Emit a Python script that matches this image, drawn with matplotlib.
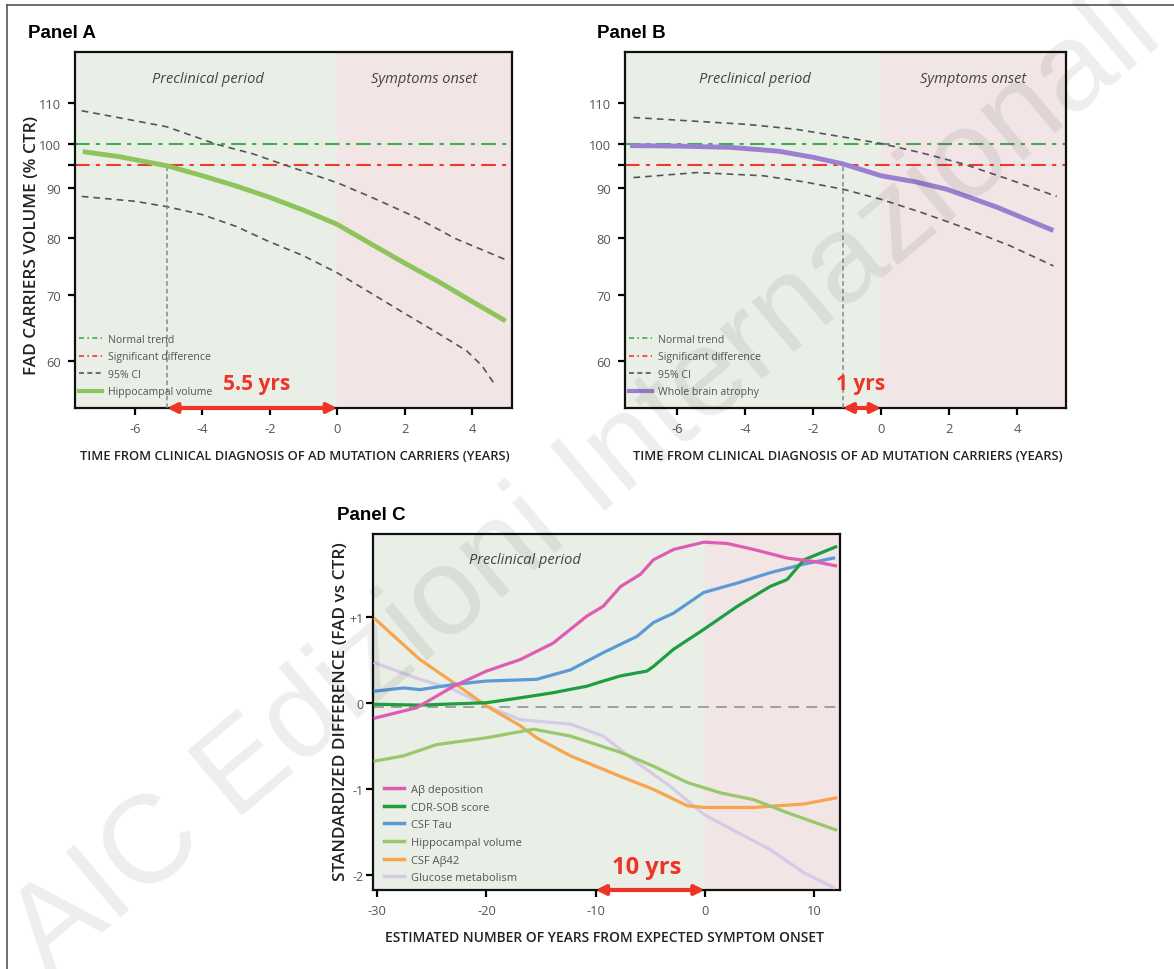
import matplotlib
matplotlib.use("Agg")
import matplotlib.pyplot as plt
from matplotlib.lines import Line2D

plt.rcParams.update({
    'font.family': ['Open Sans', 'DejaVu Sans'],
    'axes.linewidth': 1.6,
})

# ---- Panel A: hippocampal volume (% CTR) ----
a_x = [-7.55, -6.5, -5.05, -4.0, -3.0, -2.0, -1.0, 0.0, 1.0, 2.0, 3.0, 4.0, 5.0]
a_hippo = [98.1, 97.0, 94.9, 92.7, 90.5, 88.1, 85.5, 82.7, 79.0, 75.5, 72.3, 69.0, 65.9]
a_ci_x = [-7.58, -6.0, -5.05, -3.57, -2.5, -1.6, 0.0, 1.0, 2.36, 3.5, 5.08]
a_ci_up = [108.0, 105.5, 104.0, 99.8, 97.6, 95.2, 91.2, 88.2, 84.0, 80.0, 75.9]
a_ci_x2 = [-7.58, -6.0, -5.05, -4.0, -3.0, -2.09, -1.0, 0.0, 1.87, 3.0, 3.85, 4.3, 4.64]
a_ci_lo = [88.3, 87.3, 86.2, 84.6, 82.3, 79.6, 76.8, 73.8, 67.5, 64.0, 61.4, 59.3, 57.0]
a_cross = -5.05

# ---- Panel B: whole brain atrophy (% CTR) ----
b_x = [-7.37, -6.0, -4.43, -3.0, -1.99, -1.11, 0.0, 1.0, 1.93, 3.4, 5.06]
b_brain = [99.5, 99.4, 99.1, 98.2, 96.8, 95.3, 92.7, 91.4, 89.8, 86.1, 81.5]
b_ci_x = [-7.27, -5.5, -3.94, -2.5, -1.01, 0.0, 1.2, 2.42, 3.8, 5.16]
b_ci_up = [106.3, 105.4, 104.6, 103.4, 101.4, 100.0, 97.8, 95.3, 91.8, 88.3]
b_ci_x2 = [-7.27, -5.41, -3.46, -2.2, -1.11, 0.0, 1.2, 2.42, 3.8, 5.06]
b_ci_lo = [92.3, 93.4, 92.7, 91.3, 89.8, 87.7, 85.0, 82.1, 78.6, 75.0]
b_cross = -1.13

normal_trend = 100
signif_diff = 95

# ---- Panel C: standardized difference ----
c_abeta_x = [-30.2, -26.4, -23.0, -20.0, -16.9, -13.9, -10.8, -9.3, -7.7, -5.9, -4.7, -2.85, -0.09, 2.05, 4.5, 7.55, 10.0, 12.0]
c_abeta = [-0.17, -0.05, 0.20, 0.376, 0.51, 0.70, 1.015, 1.13, 1.36, 1.50, 1.67, 1.79, 1.875, 1.86, 1.79, 1.69, 1.65, 1.60]
c_cdr_x = [-30.2, -26.1, -20.0, -16.9, -13.9, -10.8, -9.3, -7.7, -5.3, -4.7, -2.85, -0.09, 3.0, 6.0, 7.55, 9.1, 12.0]
c_cdr = [-0.01, -0.02, 0.008, 0.065, 0.124, 0.20, 0.26, 0.32, 0.376, 0.43, 0.63, 0.86, 1.13, 1.36, 1.44, 1.67, 1.82]
c_tau_x = [-30.2, -27.6, -26.1, -23.0, -20.0, -15.4, -12.3, -9.3, -6.2, -4.7, -2.85, -0.09, 3.0, 6.0, 9.1, 11.8]
c_tau = [0.143, 0.18, 0.16, 0.22, 0.26, 0.28, 0.39, 0.59, 0.78, 0.94, 1.05, 1.29, 1.40, 1.52, 1.62, 1.69]
c_hippo_x = [-30.2, -27.6, -24.6, -20.0, -15.7, -12.3, -7.7, -4.7, -1.6, 1.44, 4.5, 7.55, 12.0]
c_hippo = [-0.67, -0.61, -0.48, -0.40, -0.30, -0.38, -0.57, -0.73, -0.92, -1.04, -1.12, -1.27, -1.47]
c_ab42_x = [-30.2, -26.1, -23.0, -20.0, -16.9, -15.4, -12.3, -7.7, -4.7, -1.6, -0.09, 4.5, 9.1, 12.0]
c_ab42 = [0.98, 0.51, 0.24, -0.03, -0.26, -0.40, -0.61, -0.85, -1.00, -1.19, -1.21, -1.21, -1.17, -1.10]
c_gluc_x = [-30.2, -26.1, -23.0, -20.0, -16.9, -12.3, -9.3, -6.2, -3.2, -0.09, 3.0, 6.0, 9.1, 11.8]
c_gluc = [0.47, 0.28, 0.16, -0.03, -0.19, -0.24, -0.38, -0.69, -0.96, -1.29, -1.50, -1.70, -1.97, -2.14]
c_zero = -0.04

c_series = [
    ('A\u03b2 deposition', c_abeta_x, c_abeta, '#e05cb4'),
    ('CDR-SOB score', c_cdr_x, c_cdr, '#1e9e3e'),
    ('CSF Tau', c_tau_x, c_tau, '#5b9bd5'),
    ('Hippocampal volume', c_hippo_x, c_hippo, '#98c86a'),
    ('CSF A\u03b242', c_ab42_x, c_ab42, '#f7a54e'),
    ('Glucose metabolism', c_gluc_x, c_gluc, '#d6cbe6'),
]

GREEN_BG = '#e9efe6'
PINK_BG = '#f1e5e5'
RED = '#ee3426'
TXT = '#555555'

W, H = 1174, 970
fig = plt.figure(figsize=(W / 100, H / 100), dpi=100)


def fx(px):
    return px / W


def fy(py):
    return 1 - py / H


def axes_px(l, t, r, b):
    return fig.add_axes([fx(l), fy(b), (r - l) / W, (b - t) / H])


def style_axes(ax):
    ax.tick_params(direction='out', length=5, width=1.6, color='black',
                   labelcolor=TXT, labelsize=9.3, pad=5)
    for s in ax.spines.values():
        s.set_color('#111111')


def volume_panel(ax, xlim, x, y, cx, cu, cx2, cl, cross, curve_col, curve_lab, yrs_x, yrs_txt):
    ax.set_yscale('log')
    ax.set_xlim(*xlim)
    ax.set_ylim(53.7, 124)
    ax.axvspan(xlim[0], 0, color=GREEN_BG, lw=0, zorder=0)
    ax.axvspan(0, xlim[1], color=PINK_BG, lw=0, zorder=0)
    ax.axhline(normal_trend, color='#3daf4c', lw=1.5, dashes=(7, 3, 2, 3), zorder=2)
    ax.axhline(signif_diff, color='#ee3a2c', lw=1.5, dashes=(7, 3, 2, 3), zorder=2)
    ax.plot(cx, cu, color='#555555', lw=1.2, dashes=(4, 3), zorder=3)
    ax.plot(cx2, cl, color='#555555', lw=1.2, dashes=(4, 3), zorder=3)
    ax.plot(x, y, color=curve_col, lw=3.5, solid_capstyle='butt', zorder=4)
    ax.plot([cross, cross], [53.7, signif_diff], color='#888888', lw=1.1,
            dashes=(3, 2), zorder=3)
    ax.annotate('', xy=(0, 0), xytext=(cross, 0),
                xycoords=('data', 'axes fraction'), textcoords=('data', 'axes fraction'),
                arrowprops=dict(arrowstyle='<|-|>', color=RED, lw=3, mutation_scale=14,
                                shrinkA=0, shrinkB=0),
                annotation_clip=False, zorder=6)
    ax.text(yrs_x, 0.068, yrs_txt, transform=ax.get_xaxis_transform(), ha='center',
            va='center', color=RED, fontsize=15, fontweight='bold', zorder=6)
    ax.set_yticks([60, 70, 80, 90, 95, 100, 110])
    ax.set_yticklabels(['60', '70', '80', '90', '', '100', '110'])
    ax.yaxis.set_minor_locator(matplotlib.ticker.NullLocator())
    ax.set_xticks([-6, -4, -2, 0, 2, 4])
    ax.set_xticklabels(['-6', '-4', '-2', '0', '2', '4'])
    ax.text(xlim[0] + (0 - xlim[0]) * 0.5 + 0.05, 0.925, 'Preclinical period',
            transform=ax.get_xaxis_transform(), ha='center', va='center',
            style='italic', fontsize=10.5, color='#444444')
    ax.text(xlim[1] * 0.5, 0.925, 'Symptoms onset',
            transform=ax.get_xaxis_transform(), ha='center', va='center',
            style='italic', fontsize=10.5, color='#444444')
    handles = [
        Line2D([], [], color='#3daf4c', lw=1.2, dashes=(3, 2, 1, 2)),
        Line2D([], [], color='#ee3a2c', lw=1.2, dashes=(3, 2, 1, 2)),
        Line2D([], [], color='#555555', lw=1.2, dashes=(3, 2)),
        Line2D([], [], color=curve_col, lw=3),
    ]
    labels = ['Normal trend', 'Significant difference', '95% CI', curve_lab]
    ax.legend(handles, labels, loc='lower left', bbox_to_anchor=(-0.005, 0.012),
              frameon=False, fontsize=7.6, handlelength=2.2, handletextpad=0.5,
              labelspacing=0.62, labelcolor=TXT, borderaxespad=0.2)
    style_axes(ax)


# Panel A
axA = axes_px(75, 53, 512, 409)
volume_panel(axA, (-7.78, 5.19), a_x, a_hippo, a_ci_x, a_ci_up, a_ci_x2, a_ci_lo,
             a_cross, '#8dc55c', 'Hippocampal volume', -2.38, '5.5 yrs')

# Panel B
axB = axes_px(625, 53, 1066, 409)
volume_panel(axB, (-7.52, 5.43), b_x, b_brain, b_ci_x, b_ci_up, b_ci_x2, b_ci_lo,
             b_cross, '#9b80cf', 'Whole brain atrophy', -0.6, '1 yrs')

# Panel C
axC = axes_px(373, 535, 840, 891)
cxlim = (-30.4, 12.4)
axC.set_xlim(*cxlim)
axC.set_ylim(-2.17, 1.97)
axC.axvspan(cxlim[0], 0, color=GREEN_BG, lw=0, zorder=0)
axC.axvspan(0, cxlim[1], color=PINK_BG, lw=0, zorder=0)
axC.axhline(c_zero, color='#999999', lw=1.3, dashes=(6, 4), zorder=1)
for lab, xs, ys, col in c_series[::-1]:
    axC.plot(xs, ys, color=col, lw=2.3, zorder=3)
axC.annotate('', xy=(0, 0), xytext=(-10, 0),
             xycoords=('data', 'axes fraction'), textcoords=('data', 'axes fraction'),
             arrowprops=dict(arrowstyle='<|-|>', color=RED, lw=3, mutation_scale=14,
                             shrinkA=0, shrinkB=0),
             annotation_clip=False, zorder=6)
axC.text(-5.3, 0.066, '10 yrs', transform=axC.get_xaxis_transform(), ha='center',
         va='center', color=RED, fontsize=17, fontweight='bold', zorder=6)
axC.text(-16.45, 1.67, 'Preclinical period', ha='center', va='center',
         style='italic', fontsize=10.5, color='#444444')
axC.set_xticks([-30, -20, -10, 0, 10])
axC.set_xticklabels(['-30', '-20', '-10', '0', '10'])
axC.set_yticks([-2, -1, 0, 1])
axC.set_yticklabels(['-2', '-1', '0', '+1'])
c_handles = [Line2D([], [], color=col, lw=2.5) for _, _, _, col in c_series]
axC.legend(c_handles, [s[0] for s in c_series], loc='lower left',
           bbox_to_anchor=(0.01, 0.0), frameon=False, fontsize=8, handlelength=1.8,
           handletextpad=0.6, labelspacing=0.6, labelcolor=TXT, borderaxespad=0.2)
style_axes(axC)
axC.tick_params(axis='y', pad=2, labelsize=9)

# Titles and axis labels
for px, py, txt in [(28, 33, 'Panel A'), (597, 33, 'Panel B'), (337, 515, 'Panel C')]:
    fig.text(fx(px), fy(py), txt, ha='left', va='center', fontsize=13.5,
             fontweight='bold', family=['Liberation Sans', 'DejaVu Sans'])

lab_kw = dict(fontweight='semibold', color='#222222', ha='center', va='center')
fig.text(fx(32), fy(245), 'FAD CARRIERS VOLUME (% CTR)', rotation=90,
         fontsize=12.3, **lab_kw)
fig.text(fx(295), fy(457), 'TIME FROM CLINICAL DIAGNOSIS OF AD MUTATION CARRIERS (YEARS)',
         fontsize=9.3, **lab_kw)
fig.text(fx(848), fy(457), 'TIME FROM CLINICAL DIAGNOSIS OF AD MUTATION CARRIERS (YEARS)',
         fontsize=9.3, **lab_kw)
fig.text(fx(341), fy(712), 'STANDARDIZED DIFFERENCE (FAD vs CTR)', rotation=90,
         fontsize=12.4, **lab_kw)
fig.text(fx(605), fy(938), 'ESTIMATED NUMBER OF YEARS FROM EXPECTED SYMPTOM ONSET',
         fontsize=10, **lab_kw)

# page frame
fig.add_artist(Line2D([fx(7), fx(7)], [fy(6), fy(975)], color='#555555', lw=1.2))
fig.add_artist(Line2D([fx(7), fx(1180)], [fy(6), fy(6)], color='#555555', lw=1.2))

# watermark
fig.text(0.50, 0.50, 'AIC Edizioni Internazionali', rotation=40, fontsize=90,
         color='#000000', alpha=0.07, ha='center', va='center', zorder=100,
         family=['Liberation Sans', 'DejaVu Sans'])

fig.savefig('out.png', dpi=100)
